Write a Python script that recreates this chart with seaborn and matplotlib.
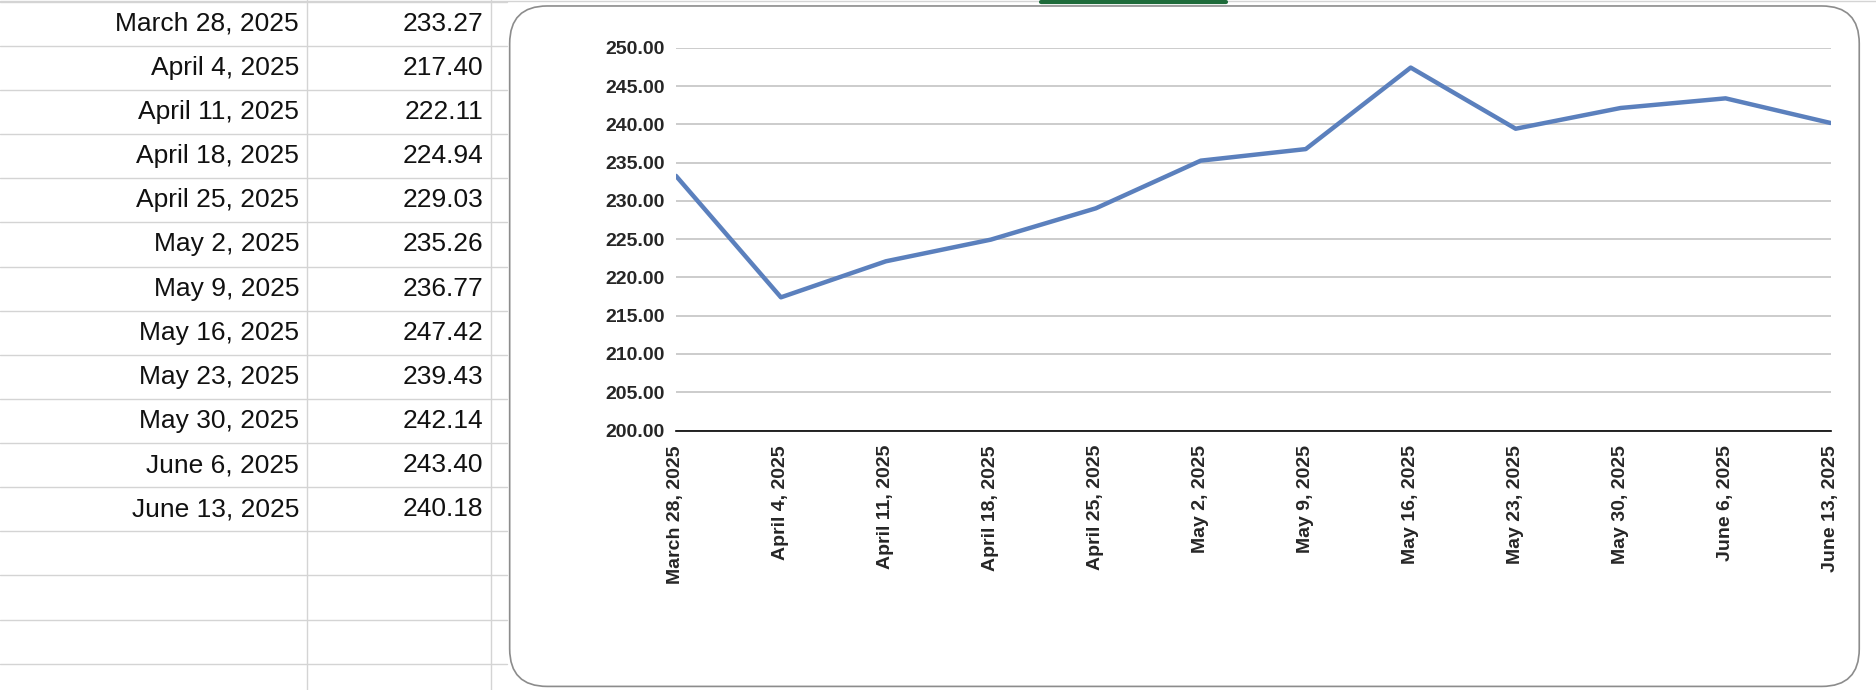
import matplotlib
matplotlib.use("Agg")
import matplotlib.pyplot as plt
import matplotlib.dates as mdates
from matplotlib.lines import Line2D
from matplotlib.patches import FancyBboxPatch
import pandas as pd
import seaborn as sns

sns.set_style('white')
plt.rcParams['font.family'] = ['Liberation Sans', 'DejaVu Sans']

date_labels = ['March 28, 2025', 'April 4, 2025', 'April 11, 2025', 'April 18, 2025',
               'April 25, 2025', 'May 2, 2025', 'May 9, 2025', 'May 16, 2025',
               'May 23, 2025', 'May 30, 2025', 'June 6, 2025', 'June 13, 2025']
prices = [233.27, 217.40, 222.11, 224.94, 229.03, 235.26, 236.77, 247.42,
          239.43, 242.14, 243.40, 240.18]

df = pd.DataFrame({'date': pd.to_datetime(date_labels, format='%B %d, %Y'), 'price': prices})

W, H = 1568, 577  # layout measured in reference pixels
fig = plt.figure(figsize=(18.76, 6.9), dpi=100)

def fx(x):
    return x / W

def fy(y):
    return 1 - y / H

# spreadsheet grid on the left
grid_col = '#d4d4d4'
for x in (257, 410):
    fig.add_artist(Line2D([fx(x), fx(x)], [0, 1], color=grid_col, lw=1, zorder=-3))
row_h = 36.9
for i in range(16):
    y = 1.5 + row_h * i
    fig.add_artist(Line2D([0, fx(424)], [fy(y), fy(y)], color=grid_col, lw=1, zorder=-3))
fig.add_artist(Line2D([0, 1], [fy(1), fy(1)], color=grid_col, lw=1, zorder=-3))
fig.add_artist(Line2D([fx(870), fx(1025)], [fy(1.5), fy(1.5)], color='#1e6b3a', lw=3, zorder=-3))

for i, (lab, p) in enumerate(zip(date_labels, prices)):
    y = 1.5 + row_h * (i + 0.5)
    fig.text(fx(250), fy(y), lab, ha='right', va='center', fontsize=19, color='#111111')
    fig.text(fx(404), fy(y), f'{p:.2f}', ha='right', va='center', fontsize=19, color='#111111')

# chart frame
fig.add_artist(FancyBboxPatch((fx(426), fy(574)), fx(1554 - 426), (574 - 5) / H,
                              boxstyle='round,pad=0,rounding_size=0.02',
                              transform=fig.transFigure, facecolor='white',
                              edgecolor='#8c8c8c', lw=1.2, mutation_aspect=W / H, zorder=-2))

ax = fig.add_axes([fx(565), fy(360), fx(1530 - 565), (360 - 40) / H])
ax.set_zorder(5)
ax.patch.set_alpha(0)
sns.lineplot(data=df, x='date', y='price', ax=ax, color='#5b80bd', lw=3.2)
ax.set_ylim(200, 250)
ax.set_yticks(range(200, 251, 5))
ax.yaxis.set_major_formatter(matplotlib.ticker.FormatStrFormatter('%.2f'))
ax.set_xlim(df['date'].iloc[0], df['date'].iloc[-1])
ax.set_xticks(df['date'])
ax.set_xticklabels(date_labels, rotation=90, fontweight='bold', fontsize=14)
ax.xaxis.set_minor_locator(mdates.DayLocator())
ax.tick_params(axis='x', which='both', direction='inout', length=9, width=1.2, color='black', pad=6)
ax.tick_params(axis='y', labelsize=14, length=0, pad=8)
for t in ax.get_yticklabels():
    t.set_fontweight('bold')
ax.grid(axis='y', color='#c4c4c4', lw=1.2)
ax.set_axisbelow(True)
for s in ('top', 'right', 'left'):
    ax.spines[s].set_visible(False)
ax.spines['bottom'].set_color('black')
ax.spines['bottom'].set_linewidth(1.2)
ax.set_xlabel('')
ax.set_ylabel('')

fig.savefig('out.png', dpi=100)
